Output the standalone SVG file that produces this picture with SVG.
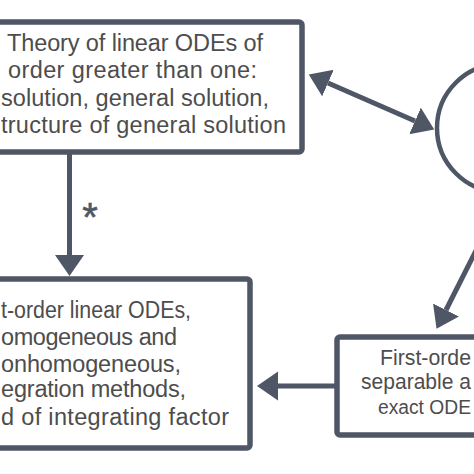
<svg xmlns="http://www.w3.org/2000/svg" width="474" height="474" viewBox="0 0 474 474">
  <defs>
    <style>
      .box { fill: #ffffff; stroke: #4f5666; stroke-width: 5.5; stroke-linejoin: round; }
      .edge { fill: none; stroke: #4f5666; stroke-width: 5; }
      .t { font-family: "Liberation Sans", Arial, sans-serif; fill: #4d4d4d; font-size: 23.5px; }
      .ts { font-family: "Liberation Sans", Arial, sans-serif; fill: #4d4d4d; font-size: 21.5px; }
    </style>
    <marker id="ah" markerUnits="userSpaceOnUse" markerWidth="24" markerHeight="32" refX="0" refY="14.5" orient="auto-start-reverse" viewBox="0 0 24 32">
      <path d="M0,0 L21,14.5 L0,29 z" fill="#4f5666"/>
    </marker>
  </defs>
  <rect width="474" height="474" fill="#ffffff"/>

  <g id="connectors">
    <line class="edge" x1="69.5" y1="152" x2="69.5" y2="255" marker-end="url(#ah)"/>
    <text x="90" y="231" text-anchor="middle" style="font-family:'Liberation Sans',Arial,sans-serif;font-size:40px;fill:#4f5666;stroke:#4f5666;stroke-width:0.6">*</text>
    <line class="edge" x1="328" y1="83" x2="415" y2="121" marker-start="url(#ah)" marker-end="url(#ah)"/>
    <line class="edge" x1="505" y1="193" x2="446" y2="310" marker-end="url(#ah)"/>
    <line class="edge" x1="337" y1="386" x2="278" y2="386" marker-end="url(#ah)"/>
  </g>

  <g id="node-theory">
    <rect class="box" x="-40" y="22" width="342" height="130" rx="3"/>
    <text class="t" x="135" y="51" text-anchor="middle" textLength="256">Theory of linear ODEs of</text>
    <text class="t" x="132.5" y="78" text-anchor="middle" textLength="249">order greater than one:</text>
    <text class="t" x="1" y="106" textLength="268">solution, general solution,</text>
    <text class="t" x="1" y="133" textLength="285">tructure of general solution</text>
  </g>

  <g id="node-first-order-linear">
    <rect class="box" x="-40" y="279" width="290" height="169" rx="3"/>
    <text class="t" x="1" y="318" textLength="190" lengthAdjust="spacingAndGlyphs">t-order linear ODEs,</text>
    <text class="t" x="1" y="345" textLength="176">omogeneous and</text>
    <text class="t" x="1" y="372" textLength="180">onhomogeneous,</text>
    <text class="t" x="1" y="397" textLength="185">egration methods,</text>
    <text class="t" x="1" y="425" textLength="228">d of integrating factor</text>
  </g>

  <g id="node-separable-exact">
    <rect class="box" x="337" y="337" width="200" height="98" rx="3"/>
    <text class="ts" x="380" y="365" textLength="91" lengthAdjust="spacingAndGlyphs">First-orde</text>
    <text class="ts" x="361" y="389" textLength="110" lengthAdjust="spacingAndGlyphs">separable a</text>
    <text class="ts" x="378" y="414" textLength="93" lengthAdjust="spacingAndGlyphs" style="font-size:19.5px">exact ODE</text>
  </g>

  <g id="node-circle">
    <circle cx="501" cy="128" r="64" fill="#ffffff" stroke="#4f5666" stroke-width="4.5"/>
  </g>
</svg>
